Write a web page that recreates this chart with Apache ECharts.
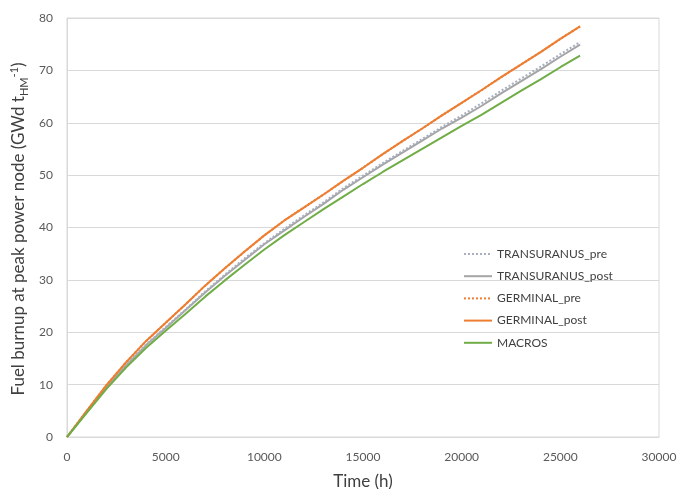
<!DOCTYPE html>
<html>
<head>
<meta charset="utf-8">
<script src="https://cdn.jsdelivr.net/npm/echarts@6/dist/echarts.min.js"></script>
<style>
  html, body { margin: 0; padding: 0; background: #fff; }
  #chart { width: 678px; height: 489px; }
</style>
</head>
<body>
<div id="chart"></div>
<script>
// Irradiation time (h)
const timeH = [0, 1000, 2000, 3000, 4000, 5000, 6000, 7000, 8000, 9000, 10000, 11000, 12000,
  13000, 14000, 15000, 16000, 17000, 18000, 19000, 20000, 21000, 22000, 23000, 24000, 25000, 26000];

// Burnup at peak power node (GWd/tHM) for each code
const transuranusPre = [0, 4.8, 9.5, 13.8, 17.6, 21.0, 24.3, 27.8, 31.0, 34.1, 37.0, 39.7, 42.3,
  44.8, 47.5, 49.9, 52.3, 54.6, 56.9, 59.2, 61.4, 63.7, 66.1, 68.4, 70.7, 73.1, 75.4];
const transuranusPost = [0, 4.8, 9.5, 13.7, 17.5, 20.8, 24.2, 27.6, 30.8, 33.8, 36.8, 39.4, 42.0,
  44.5, 47.2, 49.6, 52.0, 54.3, 56.6, 58.9, 61.0, 63.2, 65.6, 67.9, 70.2, 72.6, 74.9];
const germinalPre = [0, 5.0, 9.9, 14.3, 18.3, 21.8, 25.3, 28.9, 32.2, 35.4, 38.5, 41.3, 43.8,
  46.3, 48.9, 51.4, 54.0, 56.5, 58.9, 61.4, 63.8, 66.2, 68.7, 71.1, 73.5, 76.0, 78.4];
const germinalPost = [0, 5.0, 9.9, 14.3, 18.3, 21.8, 25.3, 28.9, 32.2, 35.4, 38.5, 41.3, 43.8,
  46.3, 48.9, 51.4, 54.0, 56.5, 58.9, 61.4, 63.8, 66.2, 68.7, 71.1, 73.5, 76.0, 78.4];
const macros = [0, 4.6, 9.2, 13.3, 17.0, 20.3, 23.5, 26.8, 29.9, 32.9, 35.8, 38.5, 41.0,
  43.5, 45.9, 48.3, 50.6, 52.8, 55.0, 57.2, 59.4, 61.5, 63.8, 66.1, 68.3, 70.6, 72.8];

const seriesNames = ['TRANSURANUS_pre', 'TRANSURANUS_post', 'GERMINAL_pre', 'GERMINAL_post', 'MACROS'];

const pairs = (ys) => timeH.map((t, i) => [t, ys[i]]);

const FONT = 'Lato, "Open Sans", sans-serif';

function lineSeries(name, ys, color, type, width, z) {
  return {
    name: name,
    type: 'line',
    data: pairs(ys),
    showSymbol: false,
    symbol: 'none',
    z: z,
    lineStyle: { color: color, width: width, type: type },
    itemStyle: { color: color }
  };
}

const chart = echarts.init(document.getElementById('chart'), null, { renderer: 'canvas' });

chart.setOption({
  animation: false,
  backgroundColor: '#ffffff',
  grid: {
    left: 67, right: 19, top: 18, bottom: 52,
    outerBoundsMode: 'none',
    containLabel: false,
    show: true, borderColor: '#d9d9d9', borderWidth: 1
  },
  legend: {
    orient: 'vertical',
    left: 463,
    top: 248,
    padding: 0,
    itemWidth: 28,
    itemHeight: 14,
    itemGap: 10.2,
    data: seriesNames,
    itemStyle: { opacity: 0 },
    textStyle: { fontFamily: FONT, fontSize: 12, color: '#404040' }
  },
  graphic: [{
    // Vertical y-axis title with subscript and superscript
    type: 'text',
    x: 19,
    y: 229,
    rotation: Math.PI / 2,
    style: {
      text: '{n|Fuel burnup at peak power node (GWd t}{sub|HM}{sup|-1}{n|)}',
      align: 'center',
      verticalAlign: 'middle',
      rich: {
        n: { fontFamily: FONT, fontSize: 17, fill: '#404040', lineHeight: 22 },
        sub: { fontFamily: FONT, fontSize: 11, fill: '#404040', lineHeight: 22, padding: [10, 0, 0, 0] },
        sup: { fontFamily: FONT, fontSize: 11, fill: '#404040', lineHeight: 22, padding: [0, 0, 10, 0] }
      }
    }
  }],
  xAxis: {
    type: 'value',
    min: 0, max: 30000, interval: 5000,
    name: 'Time (h)',
    nameLocation: 'middle',
    nameGap: 36,
    nameTextStyle: { fontFamily: FONT, fontSize: 17, color: '#404040' },
    axisLine: { show: true, lineStyle: { color: '#d9d9d9' } },
    axisTick: { show: false },
    splitLine: { show: false },
    axisLabel: {
      fontFamily: FONT, fontSize: 12, color: '#595959', margin: 14,
      formatter: (v) => String(v)
    }
  },
  yAxis: {
    type: 'value',
    min: 0, max: 80, interval: 10,
    axisLine: { show: true, lineStyle: { color: '#d9d9d9' } },
    axisTick: { show: false },
    splitLine: { show: true, lineStyle: { color: '#d9d9d9', width: 1 } },
    axisLabel: { fontFamily: FONT, fontSize: 12, color: '#595959', margin: 14 }
  },
  series: [
    lineSeries('TRANSURANUS_post', transuranusPost, '#a5a5a5', 'solid', 2, 3),
    lineSeries('TRANSURANUS_pre', transuranusPre, '#a9afc2', [2, 2], 2, 4),
    lineSeries('GERMINAL_pre', germinalPre, '#ed7d31', [2, 2], 2, 5),
    lineSeries('GERMINAL_post', germinalPost, '#ed7d31', 'solid', 2, 6),
    lineSeries('MACROS', macros, '#70ad47', 'solid', 2, 7)
  ]
});
</script>
</body>
</html>
